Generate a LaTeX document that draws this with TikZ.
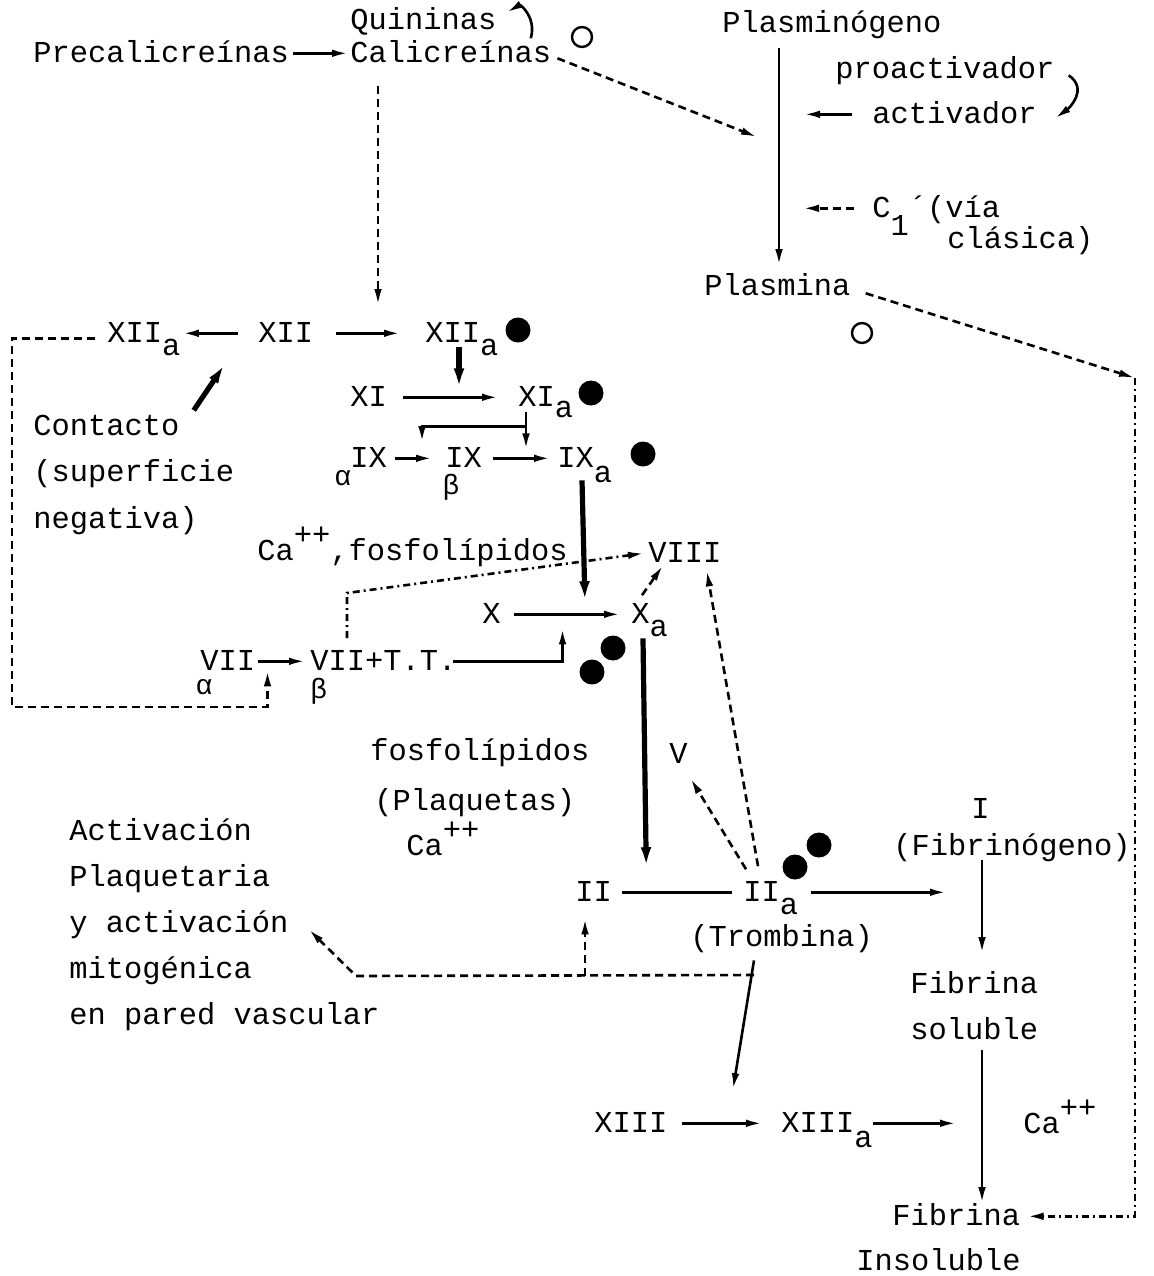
\documentclass[tikz,border=0pt]{standalone}
\usepackage{fontspec}
\setmainfont{Liberation Mono}
\usetikzlibrary{arrows.meta,positioning}

\newcommand{\dwn}[2][0.45em]{\raisebox{-#1}{#2}}
\newcommand{\upp}[1]{\raisebox{0.5em}{#1}}
% greek index written under the first letter
\newcommand{\gbelow}[3]{\makebox[0pt][l]{\hspace*{#1}\raisebox{-#2}{\fontsize{14}{14}\selectfont #3}}}

\tikzset{
  lbl/.style  = {anchor=base west, inner sep=0pt, text height=8.7pt, text depth=0pt},
  ln/.style   = {line width=1.3pt},
  arr/.style  = {ln, -{Latex[length=8pt,width=3.8pt]}},
  thk/.style  = {line width=2.6pt, -{Latex[length=11pt,width=5.2pt]}},
  dsh/.style  = {arr, dash pattern=on 4pt off 2.5pt},
  ddt/.style  = {arr, dash pattern=on 3.5pt off 2pt on 1pt off 2pt},
  blob/.style = {circle, fill, inner sep=0pt, minimum size=12.5pt},
  ring/.style = {circle, draw, line width=1.2pt, inner sep=0pt, minimum size=10pt},
}

\begin{document}
\begin{tikzpicture}[x=0.5pt, y=-0.5pt, font=\fontsize{15.2}{18}\selectfont]
  \useasboundingbox (0,0) rectangle (1153,1276);

  % calicreinas y plasmina
  \node[lbl] (quin) at (350,29)  {Quininas};
  \node[lbl] (prec) at (33,62)   {Precalicreínas};
  \node[lbl] (cali) at (350,62)  {Calicreínas};
  \node[ring] (o1)  at (582,37)  {};
  \node[lbl] (plg)  at (722,32)  {Plasminógeno};
  \node[lbl] (proa) at (835,78)  {proactivador};
  \node[lbl] (actv) at (872,123) {activador};
  \node[lbl] (cone) at (872,217) {C\dwn[0.62em]{1}´(vía};
  \node[lbl] (clas) at (947,248) {clásica)};
  \node[lbl] (plm)  at (704,295) {Plasmina};
  \node[ring] (o2)  at (862,333) {};

  % via intrinseca
  \node[lbl] (xiil) at (107,342) {XII\dwn{a}};
  \node[lbl] (xii)  at (258,342) {XII};
  \node[lbl] (xiim) at (425,342) {XII\dwn{a}};
  \node[lbl] (cnt1) at (33,435)  {Contacto};
  \node[lbl] (cnt2) at (33,481)  {(superficie};
  \node[lbl] (cnt3) at (33,528)  {negativa)};
  \node[lbl] (xi)   at (350,406) {XI};
  \node[lbl] (xia)  at (518,406) {XI\dwn[0.37em]{a}};
  \node[lbl] (ixal) at (350,467) {\gbelow{-8pt}{0.6em}{α}IX};
  \node[lbl] (ixb)  at (445,467) {\gbelow{-1.4pt}{0.92em}{β}IX};
  \node[lbl] (ixa)  at (557,467) {IX\dwn[0.5em]{a}};
  \node[lbl] (caf)  at (257,560) {Ca\upp{++},fosfolípidos};
  \node[lbl] (viii) at (648,562) {VIII};
  \node[lbl] (fx)   at (482,623) {X};
  \node[lbl] (xa)   at (631,623) {X\dwn{a}};
  \node[lbl] (viia) at (200,670) {\gbelow{-2.4pt}{0.82em}{α}VII};
  \node[lbl] (viib) at (310,670) {\gbelow{0pt}{0.95em}{β}VII+T.T.};

  % via comun
  \node[lbl] (fos1) at (370,760) {fosfolípidos};
  \node[lbl] (fos2) at (374,810) {(Plaquetas)};
  \node[lbl] (fos3) at (406,855) {Ca\upp{++}};
  \node[lbl] (fv)   at (669,763) {V};
  \node[lbl] (pla1) at (69,840)  {Activación};
  \node[lbl] (pla2) at (69,886)  {Plaquetaria};
  \node[lbl] (pla3) at (69,932)  {y activación};
  \node[lbl] (pla4) at (69,978)  {mitogénica};
  \node[lbl] (pla5) at (69,1024) {en pared vascular};
  \node[lbl] (ii)   at (575,901) {II};
  \node[lbl] (iia)  at (743,901) {II\dwn{a}};
  \node[lbl] (trom) at (690,946) {(Trombina)};
  \node[lbl] (fi)   at (971,818) {I};
  \node[lbl] (fbg)  at (893,855) {(Fibrinógeno)};
  \node[lbl] (fs1)  at (910,993) {Fibrina};
  \node[lbl] (fs2)  at (910,1039) {soluble};
  \node[lbl] (cab)  at (1023,1133) {Ca\upp{++}};
  \node[lbl] (xiii) at (594,1132) {XIII};
  \node[lbl] (xiiia) at (781,1132) {XIII\dwn[0.5em]{a}};
  \node[lbl] (fi1)  at (892,1225) {Fibrina};
  \node[lbl] (fi2)  at (856,1270) {Insoluble};

  \foreach \px/\py/\nm in {518/330/b1, 591/393/b2, 643/454/b3, 613/648/b4,
                           592/672/b5, 819/845/b6, 795/867/b7}
    \node[blob] (\nm) at (\px,\py) {};

  % free ends
  \coordinate (pl)  at (779,0);    % eje plasminogeno
  \coordinate (fl)  at (982,0);    % eje fibrina
  \coordinate (kal) at (378,305);
  \coordinate (pin) at (757,137);
  \coordinate (rc)  at (1135,378);
  \coordinate (lc)  at (12,707);
  \coordinate (vk)  at (347,593);
  \coordinate (jn)  at (754,975);
  \coordinate (dc)  at (356,976);

  \draw[arr] ([xshift=2pt]prec.east) -- ([xshift=-1pt]cali.west);
  \draw[arr] ([shift={(34,18)}]quin.east) .. controls +(6,-20) and +(14,-8) .. ([shift={(10,-8)}]quin.east);
  \draw[dsh] ([shift={(6,5)}]cali.east) -- (pin);
  \draw[dsh, shorten <=12pt] (cali.south -| kal) -- (kal);
  \draw[arr, shorten <=8pt, shorten >=6pt] (plg.south -| pl) -- (plm.north -| pl);
  \draw[arr, shorten >=12.5pt] ([xshift=-10pt]actv.west) -- (actv.west -| pl);
  \draw[arr] ([shift={(14,6)}]proa.east) .. controls +(20,14) and +(14,-10) .. ([shift={(18,4)}]actv.east);
  \draw[dsh, shorten >=12pt] ([xshift=-9pt]cone.west) -- (cone.west -| pl);
  \draw[dsh] ([shift={(15,7)}]plm.east) -- (rc);
  \draw[ddt] (rc) -- (rc |- fi1.east) -- ([xshift=3.5pt]fi1.east);

  \draw[arr] ([xshift=-10pt]xii.west) -- ([xshift=1pt]xiil.east);
  \draw[arr] ([xshift=11pt]xii.east) -- ([xshift=-12.5pt]xiim.west);
  \draw[thk] ([shift={(14,-16)}]cnt1.east) -- ([shift={(-32,20)}]xii.south west);
  \draw[dsh] ([shift={(-12,5)}]xiil.west) -| (lc) -| ([xshift=6pt]viia.south east);
  \draw[thk] ([shift={(34,5)}]xiim.south west) -- ++(0,43);
  \draw[arr] ([xshift=8pt]xi.east) -- ([xshift=-10pt]xia.west);
  \draw[arr] ([shift={(8,6)}]xia.south west) -- ++(0,37);
  \draw[arr] ([shift={(8,20)}]xia.south west) -| ([shift={(-23,-7)}]ixb.north west);
  \draw[arr] ([xshift=4pt]ixal.east) -- ([xshift=-6.5pt]ixb.west);
  \draw[arr] ([xshift=5.5pt]ixb.east) -- ([xshift=-3.5pt]ixa.west);
  \draw[thk] ([shift={(25,13)}]ixa.south west) -- ([shift={(-46,-11)}]xa.west);
  \draw[arr] ([xshift=6.5pt]fx.east) -- ([xshift=-5.5pt]xa.west);
  \draw[arr] ([xshift=-2pt]viib.east) -| ([shift={(71,5)}]fx.south);
  \draw[arr] ([xshift=1pt]viia.east) -- ([xshift=-2.5pt]viib.west);
  \draw[ddt] ([shift={(37,-14)}]viib.north west) -- (vk) -- ([xshift=-2pt]viii.west);
  \draw[dsh] ([shift={(11,-10)}]xa.north west) -- ([shift={(15,3)}]viii.south west);

  \draw[thk] ([shift={(12,15)}]xa.south west) -- ([shift={(34,-14)}]ii.north east);
  \draw[dsh] ([shift={(3,-14)}]iia.north west) -- ([shift={(12,15)}]fv.south);
  \draw[dsh] ([shift={(15,-17)}]iia.north west) -- ([shift={(-15,8)}]viii.south east);
  \draw[ln] ([xshift=5pt]ii.east) -- ([xshift=-5.5pt]iia.west);
  \draw[arr, shorten >=18pt] ([xshift=6pt]iia.east) -- (iia.east -| fl);
  \draw[arr, shorten <=2.5pt, shorten >=11pt] (fbg.south -| fl) -- (fs1.north -| fl);
  \draw[arr, shorten <=5.5pt, shorten >=2pt] (fs2.south -| fl) -- (fi1.north -| fl);

  \coordinate (tb) at ([shift={(64,14)}]trom.south west);
  \draw[arr] (tb) -- ([shift={(-48,-25)}]xiiia.north west);
  \draw[dsh] (jn) -- (dc) -- ([shift={(20,6)}]pla3.east);
  \coordinate (iib) at ([shift={(10,17)}]ii.south west);
  \draw[dsh] (dc -| iib) -- (iib);
  \draw[arr] ([xshift=7pt]xiii.east) -- ([xshift=-9.5pt]xiiia.west);
  \draw[arr, shorten >=13pt] (xiiia.east) -- (xiiia.east -| fl);
\end{tikzpicture}
\end{document}
